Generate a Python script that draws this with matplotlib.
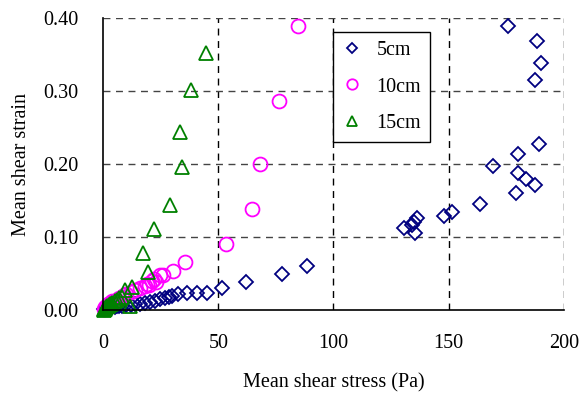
import matplotlib
matplotlib.use("Agg")
import matplotlib.pyplot as plt

plt.rcParams['font.family'] = ['Liberation Serif', 'DejaVu Serif']

# 5cm series (blue diamonds)
x5 = [0.5, 1, 1.5, 2, 2.5, 3, 4, 5, 6, 7, 8, 10, 12, 14, 16, 18, 20.3, 22.5, 24.7,
      26.8, 28.5, 29.7, 32.6, 36.3, 40.6, 45, 51.5, 62, 77.8, 88.4,
      130.7, 134.1, 135.1, 136.2, 135.2, 147.8, 151.5, 163.5, 169.1, 180, 180,
      183.6, 187.7, 179.4, 189.1, 187.7, 189.9, 188.4, 175.8]
y5 = [0.001, 0.001, 0.002, 0.002, 0.003, 0.003, 0.004, 0.004, 0.005, 0.005, 0.006,
      0.007, 0.007, 0.008, 0.009, 0.010, 0.011, 0.013, 0.015, 0.016, 0.018, 0.019,
      0.022, 0.023, 0.024, 0.024, 0.030, 0.039, 0.049, 0.061,
      0.112, 0.116, 0.121, 0.126, 0.106, 0.129, 0.135, 0.146, 0.197, 0.214, 0.188,
      0.179, 0.171, 0.161, 0.227, 0.315, 0.338, 0.368, 0.389]

# 10cm series (magenta circles)
x10 = [0.5, 1, 1.5, 2, 3, 4, 5, 6, 7, 8, 9, 10, 12, 14, 16, 18, 19, 20, 21, 22, 23,
       24.7, 26.1, 30.4, 35.5, 53.3, 64.5, 68.1, 76.4, 84.8]
y10 = [0.002, 0.004, 0.006, 0.008, 0.010, 0.012, 0.013, 0.014, 0.016, 0.018, 0.020,
       0.022, 0.025, 0.028, 0.030, 0.033, 0.036, 0.035, 0.040, 0.042, 0.038,
       0.048, 0.048, 0.054, 0.066, 0.090, 0.138, 0.200, 0.286, 0.389]

# 15cm series (green triangles)
x15 = [0.2, 0.5, 0.8, 1, 1.2, 1.5, 2, 2.5, 3, 3.5, 4, 5, 6, 7, 8, 9.4, 11.6, 12.3,
       17.1, 19.3, 22.2, 29, 34.1, 33.3, 38.1, 44.5]
y15 = [0.000, 0.001, 0.002, 0.003, 0.004, 0.005, 0.006, 0.007, 0.008, 0.009, 0.010,
       0.012, 0.014, 0.016, 0.018, 0.027, 0.005, 0.032, 0.078, 0.052, 0.111, 0.144,
       0.196, 0.244, 0.301, 0.352]

xticks = [0, 50, 100, 150, 200]
yticks = [0.0, 0.1, 0.2, 0.3, 0.4]
ytick_labels = ['0.00', '0.10', '0.20', '0.30', '0.40']

FS = 14.5

fig = plt.figure(figsize=(5.83, 3.94), dpi=100)
ax = fig.add_axes([0.177, 0.213, 0.790, 0.741])

ax.plot(x5, y5, linestyle='none', marker='D', ms=6.8, mfc='none', mec='#000080',
        mew=1.3, label='5cm', clip_on=False)
ax.plot(x10, y10, linestyle='none', marker='o', ms=10, mfc='none', mec='#FF00FF',
        mew=1.3, label='10cm', clip_on=False)
ax.plot(x15, y15, linestyle='none', marker='^', ms=10, mfc='none', mec='#008000',
        mew=1.3, label='15cm', clip_on=False)

ax.set_xlim(0, 200)
ax.set_ylim(0, 0.4)
ax.set_xticks(xticks)
ax.set_yticks(yticks)
ax.set_yticklabels(ytick_labels)
ax.tick_params(direction='in', length=0, labelsize=FS)
ax.tick_params(axis='y', pad=18)
ax.tick_params(axis='x', pad=17)

for v in xticks[1:]:
    ax.axvline(v, color='black', lw=1, ls=(0, (5, 4)), zorder=0)
for v in yticks[1:]:
    ax.axhline(v, color='#444444', lw=1, ls=(0, (5, 4)), zorder=0)

ax.spines['top'].set_visible(False)
ax.spines['right'].set_visible(False)
ax.spines['left'].set_linewidth(1.2)
ax.spines['bottom'].set_linewidth(1.2)

ax.set_xlabel('Mean shear stress (Pa)', fontsize=FS, labelpad=15)
ax.set_ylabel('Mean shear strain', fontsize=FS, labelpad=8.5)

leg = ax.legend(loc='upper left', bbox_to_anchor=(0.499, 0.952), borderaxespad=0,
                fontsize=FS, frameon=True, fancybox=False, edgecolor='black',
                framealpha=1, labelspacing=0.85, handlelength=1.0,
                handletextpad=0.7, borderpad=0.45, markerscale=0.75)
leg.get_frame().set_linewidth(1.0)

fig.savefig('out.png', dpi=100)
